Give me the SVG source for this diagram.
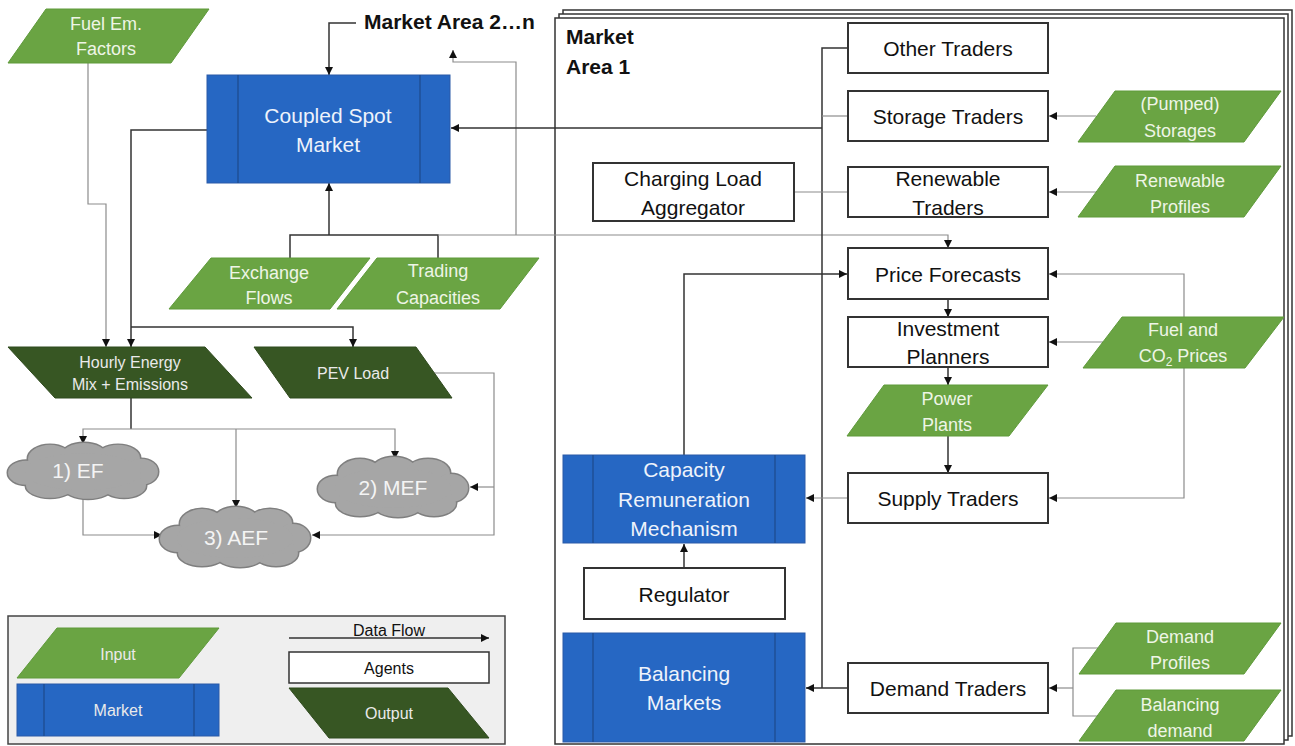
<svg xmlns="http://www.w3.org/2000/svg" xmlns:xlink="http://www.w3.org/1999/xlink" width="1295" height="746" viewBox="0 0 1295 746">
<style>
text{font-family:"Liberation Sans",Arial,sans-serif;text-anchor:middle}
.box{fill:#fff;stroke:#333;stroke-width:2}
.mkt{fill:#2667c3;stroke:#2a5ba8;stroke-width:1}
.mktl{stroke:#1d4a8c;stroke-width:1.2;fill:none}
.inp{fill:#6aa443;stroke:#5f9a3b;stroke-width:1}
.out{fill:#375623;stroke:#2f4a1e;stroke-width:1}
.frame{fill:#fff;stroke:#333;stroke-width:1.5}
.t{font-size:21px;fill:#111}
.tw{font-size:21px;fill:#eef3fb}
.tg{font-size:18px;fill:#eef5e6}
.to{font-size:16px;fill:#eaeaea}
.tl{font-size:16px;fill:#111}
.tc{font-size:21px;fill:#f4f4f4}
.b{font-weight:bold;text-anchor:start;fill:#111}
.d{fill:none;stroke:#333;stroke-width:1.5}
.l{fill:none;stroke:#8c8c8c;stroke-width:1.2}
.a{marker-end:url(#ah)}
</style>
<defs>
<marker id="ah" markerUnits="userSpaceOnUse" markerWidth="9" markerHeight="9" refX="8" refY="4" orient="auto"><path d="M0,0 L8,4 L0,8 z" fill="#111"/></marker>
<g id="cloudshape">
<ellipse cx="18" cy="32" rx="18" ry="13"/>
<ellipse cx="42" cy="17" rx="22" ry="15"/>
<ellipse cx="76" cy="13" rx="22" ry="13"/>
<ellipse cx="110" cy="16" rx="22" ry="14"/>
<ellipse cx="133" cy="31" rx="17" ry="14"/>
<ellipse cx="116" cy="46" rx="22" ry="13"/>
<ellipse cx="80" cy="48" rx="24" ry="12"/>
<ellipse cx="42" cy="46" rx="24" ry="13"/>
<ellipse cx="75" cy="31" rx="58" ry="20"/>
</g>
</defs>
<rect width="1295" height="746" fill="#fff"/>

<!-- Market Area 1 stacked frames -->
<g id="market-area-1">
<rect class="frame" x="563" y="10" width="729" height="726"/>
<rect class="frame" x="559" y="14" width="729" height="726"/>
<rect class="frame" x="555" y="18" width="729" height="726"/>
<text class="b" x="566" y="44" font-size="21">Market</text>
<text class="b" x="566" y="74" font-size="21">Area 1</text>
</g>

<g id="market-area-2n"><text class="b" x="364" y="29" font-size="21">Market Area 2…n</text></g>

<!-- connectors -->
<g id="connectors">
<path class="d a" d="M356,23 H329 V75"/>
<path class="d a" d="M207,130 H131 V347"/>
<path class="d a" d="M131,327 H353 V347"/>
<path class="l a" d="M88,63 V204 H106 V347"/>
<path class="d" d="M290,258 V235 H438 V258"/>
<path class="d a" d="M329,235 V183"/>
<path class="l a" d="M438,235 H948 V248"/>
<path class="l a" d="M516,235 V62 H453 V50"/>
<path class="d" d="M848,48 H822 V688"/>
<path class="l" d="M848,116 H822"/>
<path class="d a" d="M822,128 H451" stroke-width="2"/>
<path class="d a" d="M848,688 H806"/>
<path class="l" d="M794,192 H848"/>
<path class="l a" d="M1096,116 H1049"/>
<path class="l a" d="M1096,192 H1049"/>
<path class="l a" d="M1103,342 H1049"/>
<path class="l a" d="M1184,317 V274 H1049"/>
<path class="l a" d="M1184,368 V498 H1049"/>
<path class="d a" d="M948,299 V317"/>
<path class="d a" d="M948,367 V385"/>
<path class="d a" d="M948,436 V473"/>
<path class="l a" d="M848,498 H806"/>
<path class="d a" d="M684,568 V544"/>
<path class="d a" d="M684,455 V274 H847"/>
<path class="l" d="M1098,648 H1073 V716 H1097"/>
<path class="l a" d="M1073,688 H1049"/>
<path class="d" d="M131,398 V429"/>
<path class="l a" d="M131,429 H83 V444"/>
<path class="l a" d="M131,429 H395 V459"/>
<path class="l a" d="M236,429 V508"/>
<path class="l a" d="M434,373 H494 V535 H312"/>
<path class="l a" d="M494,487 H470"/>
<path class="l a" d="M83,497 V535 H162"/>
</g>

<!-- inputs -->
<g id="fuel-em-factors"><polygon class="inp" points="46,9 209,9 171,63 8,63"/><text class="tg" x="106" y="30">Fuel Em.</text><text class="tg" x="106" y="55">Factors</text></g>
<g id="exchange-flows"><polygon class="inp" points="211,258 370,258 330,309 169,309"/><text class="tg" x="269" y="279">Exchange</text><text class="tg" x="269" y="304">Flows</text></g>
<g id="trading-capacities"><polygon class="inp" points="377,258 539,258 500,309 337,309"/><text class="tg" x="438" y="277">Trading</text><text class="tg" x="438" y="304">Capacities</text></g>
<g id="pumped-storages"><polygon class="inp" points="1115,91 1281,91 1244,142 1078,142"/><text class="tg" x="1180" y="110">(Pumped)</text><text class="tg" x="1180" y="137">Storages</text></g>
<g id="renewable-profiles"><polygon class="inp" points="1115,166 1281,166 1244,217 1078,217"/><text class="tg" x="1180" y="187">Renewable</text><text class="tg" x="1180" y="213">Profiles</text></g>
<g id="fuel-co2-prices"><polygon class="inp" points="1122,317 1284,317 1245,368 1083,368"/><text class="tg" x="1183" y="336">Fuel and</text><text class="tg" x="1183" y="362">CO<tspan font-size="12" dy="4">2</tspan><tspan dy="-4"> Prices</tspan></text></g>
<g id="power-plants"><polygon class="inp" points="884,385 1048,385 1009,436 847,436"/><text class="tg" x="947" y="405">Power</text><text class="tg" x="947" y="431">Plants</text></g>
<g id="demand-profiles"><polygon class="inp" points="1116,623 1281,623 1244,674 1079,674"/><text class="tg" x="1180" y="643">Demand</text><text class="tg" x="1180" y="669">Profiles</text></g>
<g id="balancing-demand"><polygon class="inp" points="1116,690 1281,690 1244,741 1079,741"/><text class="tg" x="1180" y="711">Balancing</text><text class="tg" x="1180" y="737">demand</text></g>

<!-- markets -->
<g id="coupled-spot-market"><rect class="mkt" x="207" y="75" width="243" height="108"/><path class="mktl" d="M238,75 V183 M420,75 V183"/><text class="tw" x="328" y="123">Coupled Spot</text><text class="tw" x="328" y="152">Market</text></g>
<g id="capacity-remuneration"><rect class="mkt" x="563" y="455" width="242" height="88"/><path class="mktl" d="M593,455 V543 M775,455 V543"/><text class="tw" x="684" y="477">Capacity</text><text class="tw" x="684" y="507">Remuneration</text><text class="tw" x="684" y="536">Mechanism</text></g>
<g id="balancing-markets"><rect class="mkt" x="563" y="633" width="242" height="109"/><path class="mktl" d="M593,633 V742 M775,633 V742"/><text class="tw" x="684" y="681">Balancing</text><text class="tw" x="684" y="710">Markets</text></g>

<!-- agents -->
<g id="other-traders"><rect class="box" x="848" y="23" width="200" height="50"/><text class="t" x="948" y="56">Other Traders</text></g>
<g id="storage-traders"><rect class="box" x="848" y="91" width="200" height="50"/><text class="t" x="948" y="124">Storage Traders</text></g>
<g id="renewable-traders"><rect class="box" x="848" y="167" width="200" height="50"/><text class="t" x="948" y="186">Renewable</text><text class="t" x="948" y="215">Traders</text></g>
<g id="charging-load-aggregator"><rect class="box" x="593" y="163" width="201" height="58"/><text class="t" x="693" y="186">Charging Load</text><text class="t" x="693" y="215">Aggregator</text></g>
<g id="price-forecasts"><rect class="box" x="848" y="248" width="200" height="51"/><text class="t" x="948" y="282">Price Forecasts</text></g>
<g id="investment-planners"><rect class="box" x="848" y="317" width="200" height="50"/><text class="t" x="948" y="336">Investment</text><text class="t" x="948" y="364">Planners</text></g>
<g id="supply-traders"><rect class="box" x="848" y="473" width="200" height="50"/><text class="t" x="948" y="506">Supply Traders</text></g>
<g id="regulator"><rect class="box" x="584" y="568" width="201" height="51"/><text class="t" x="684" y="602">Regulator</text></g>
<g id="demand-traders"><rect class="box" x="848" y="663" width="200" height="50"/><text class="t" x="948" y="696">Demand Traders</text></g>

<!-- outputs -->
<g id="hourly-energy-mix"><polygon class="out" points="8,347 205,347 252,398 55,398"/><text class="to" x="130" y="368">Hourly Energy</text><text class="to" x="130" y="390">Mix + Emissions</text></g>
<g id="pev-load"><polygon class="out" points="254,347 416,347 452,398 290,398"/><text class="to" x="353" y="379">PEV Load</text></g>

<!-- clouds -->
<g id="cloud-ef" transform="translate(8,443) scale(1,0.93)"><use xlink:href="#cloudshape" fill="#a6a6a6" stroke="#7f7f7f" stroke-width="3"/><use xlink:href="#cloudshape" fill="#a6a6a6"/></g>
<g id="cloud-ef-label"><text class="tc" x="78" y="478">1) EF</text></g>
<g id="cloud-mef" transform="translate(318,457)"><use xlink:href="#cloudshape" fill="#a6a6a6" stroke="#7f7f7f" stroke-width="3"/><use xlink:href="#cloudshape" fill="#a6a6a6"/><text class="tc" x="75" y="38">2) MEF</text></g>
<g id="cloud-aef" transform="translate(160,507)"><use xlink:href="#cloudshape" fill="#a6a6a6" stroke="#7f7f7f" stroke-width="3"/><use xlink:href="#cloudshape" fill="#a6a6a6"/><text class="tc" x="76" y="38">3) AEF</text></g>

<!-- legend -->
<g id="legend">
<rect x="8" y="616" width="497" height="128" fill="#efefef" stroke="#444" stroke-width="1.5"/>
<polygon class="inp" points="57,628 219,628 179,678 17,678"/><text class="to" x="118" y="660" fill="#eef5e6">Input</text>
<rect class="mkt" x="17" y="684" width="202" height="52"/><path class="mktl" d="M44,684 V736 M194,684 V736"/><text class="to" x="118" y="716" fill="#eef3fb">Market</text>
<text class="tl" x="389" y="636">Data Flow</text>
<path class="d a" d="M289,638 H489" stroke-width="1.2"/>
<rect x="289" y="652" width="200" height="31" fill="#fff" stroke="#333" stroke-width="1.5"/><text class="tl" x="389" y="674">Agents</text>
<polygon class="out" points="289,688 448,688 489,738 329,738"/><text class="to" x="389" y="719">Output</text>
</g>
</svg>
